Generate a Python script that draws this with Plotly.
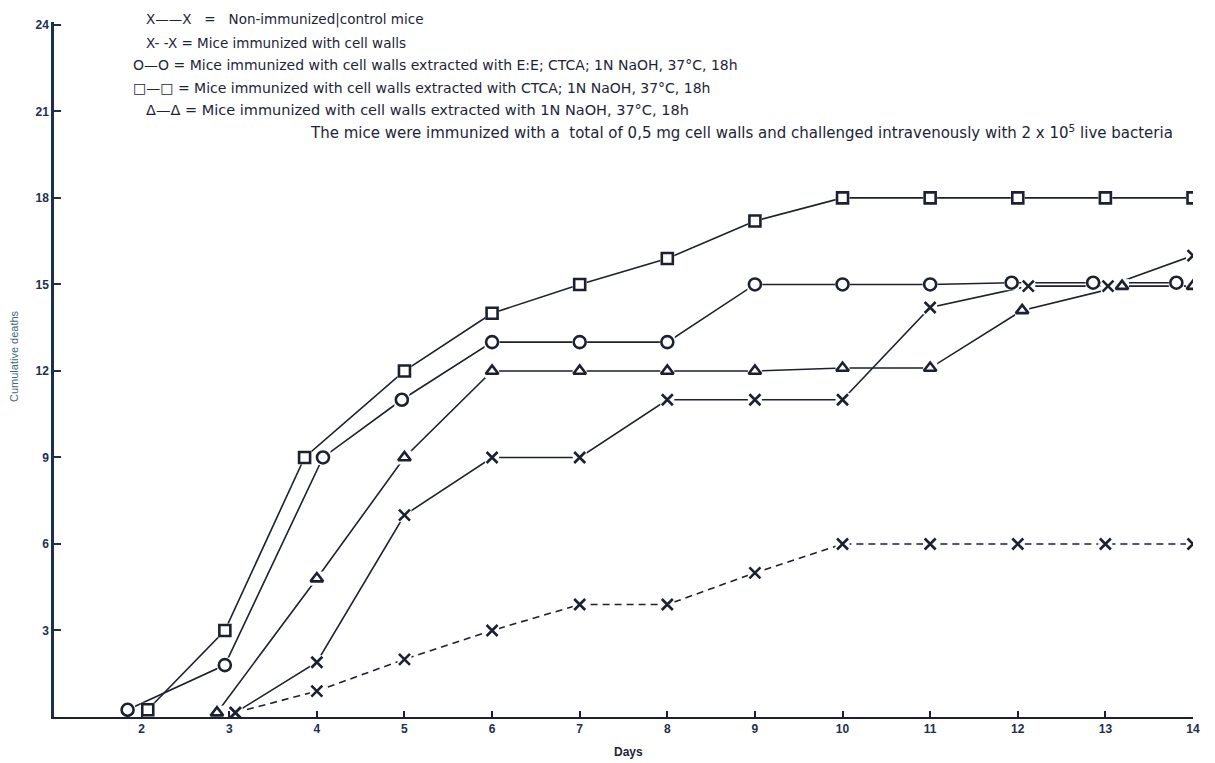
import plotly.graph_objects as go

# ---------------- data ----------------
# Non-immunized control mice (X, solid)
ctrl_days = [3.07, 4, 5, 6, 7, 8, 9, 10, 11, 12.12, 13.03, 14]
ctrl_deaths = [0.15, 1.9, 7, 9, 9, 11, 11, 11, 14.2, 14.94, 14.94, 16]

# Mice immunized with cell walls (X, dashed)
cw_days = [3.07, 4, 5, 6, 7, 8, 9, 10, 11, 12, 13, 14]
cw_deaths = [0.15, 0.9, 2, 3, 3.9, 3.9, 5, 6, 6, 6, 6, 6]

# Cell walls extracted with E:E; CTCA; 1N NaOH (O)
ee_days = [1.84, 2.95, 4.07, 4.97, 6, 7, 8, 9, 10, 11, 11.93, 12.86, 13.81]
ee_deaths = [0.25, 1.8, 9, 11, 13, 13, 13, 15, 15, 15, 15.06, 15.06, 15.06]

# Cell walls extracted with CTCA; 1N NaOH (square)
ctca_days = [2.07, 2.95, 3.86, 5, 6, 7, 8, 9, 10, 11, 12, 13, 14]
ctca_deaths = [0.25, 3.0, 9, 12, 14, 15, 15.9, 17.2, 18, 18, 18, 18, 18]

# Cell walls extracted with 1N NaOH (triangle)
naoh_days = [2.86, 4, 5, 6, 7, 8, 9, 10, 11, 12.05, 13.19, 14]
naoh_deaths = [0.15, 4.8, 9, 12, 12, 12, 12, 12.1, 12.1, 14.1, 14.94, 14.94]

x_ticks = [2, 3, 4, 5, 6, 7, 8, 9, 10, 11, 12, 13, 14]
y_ticks = [3, 6, 9, 12, 15, 18, 21, 24]

legend_rows = [
    "X\u2014\u2014X\u00a0\u00a0\u00a0=\u00a0\u00a0\u00a0Non-immunized|control mice",
    "X- -X = Mice immunized with cell walls",
    "O\u2014O = Mice immunized with cell walls extracted with E:E; CTCA; 1N NaOH, 37\u00b0C, 18h",
    "\u25a1\u2014\u25a1 = Mice immunized with cell walls extracted with CTCA; 1N NaOH, 37\u00b0C, 18h",
    "\u0394\u2014\u0394 = Mice immunized with cell walls extracted with 1N NaOH, 37\u00b0C, 18h",
]
note_text = ("The mice were immunized with a\u00a0\u00a0total of 0,5 mg cell walls and challenged "
             "intravenously with 2 x 10<sup>5</sup> live bacteria")

# ---------------- styling ----------------
W, H = 1215, 763
ML, MR, MT, MB = 54, 22, 22, 46
INK = "#1b2130"
NAVY = "#1d2f4f"
TXT = "#1c2538"

def px_x(p):
    return (p - ML) / (W - ML - MR)

def px_y(p):
    return 1 - (p - MT) / (H - MT - MB)

series = [
    dict(x=ctrl_days, y=ctrl_deaths, dash="solid", symbol="x-thin-open", size=11),
    dict(x=cw_days, y=cw_deaths, dash="7px,5px", symbol="x-thin-open", size=11),
    dict(x=ee_days, y=ee_deaths, dash="solid", symbol="circle-open", size=12),
    dict(x=ctca_days, y=ctca_deaths, dash="solid", symbol="square-open", size=11),
    dict(x=naoh_days, y=naoh_deaths, dash="solid", symbol="triangle-up-open", size=11),
]

fig = go.Figure()

# connecting lines first
for s in series:
    fig.add_trace(go.Scatter(
        x=s["x"], y=s["y"], mode="lines",
        line=dict(color=INK, width=1.6, dash=s["dash"]),
        hoverinfo="skip", showlegend=False))

# white pads that open small gaps in the lines around each symbol
for s in series:
    fig.add_trace(go.Scatter(
        x=s["x"], y=s["y"], mode="markers",
        marker=dict(symbol="square", size=s["size"] + 3, color="white", line=dict(width=0)),
        hoverinfo="skip", showlegend=False))

# the symbols
for s in series:
    fig.add_trace(go.Scatter(
        x=s["x"], y=s["y"], mode="markers",
        marker=dict(symbol=s["symbol"], size=s["size"], color=INK,
                    line=dict(color=INK, width=2.6)),
        showlegend=False))

annotations = []
row_y = [20, 43, 65, 88, 110]
row_x = [144, 144, 131, 131, 144]
row_size = [13.5, 13.5, 14, 14, 14.5]
for txt, yy, xx, fs in zip(legend_rows, row_y, row_x, row_size):
    annotations.append(dict(
        text=txt, x=px_x(xx), y=px_y(yy), xref="paper", yref="paper",
        xanchor="left", yanchor="middle", showarrow=False,
        font=dict(family="DejaVu Sans", size=fs, color=TXT)))
annotations.append(dict(
    text=note_text, x=px_x(1175), y=px_y(132), xref="paper", yref="paper",
    xanchor="right", yanchor="middle", showarrow=False,
    font=dict(family="DejaVu Sans", size=15, color=TXT)))
annotations.append(dict(
    text="Cumulative deaths", x=px_x(14), y=px_y(356), xref="paper", yref="paper",
    xanchor="center", yanchor="middle", textangle=-90, showarrow=False,
    font=dict(family="Liberation Sans", size=11, color="#3d6a74")))
annotations.append(dict(
    text="Days", x=px_x(628), y=px_y(752), xref="paper", yref="paper",
    xanchor="center", yanchor="middle", showarrow=False,
    font=dict(family="Liberation Sans", size=12, color=TXT, weight="bold")))

fig.update_layout(
    width=W, height=H,
    margin=dict(l=ML, r=MR, t=MT, b=MB),
    paper_bgcolor="white", plot_bgcolor="white",
    showlegend=False,
    annotations=annotations,
    xaxis=dict(
        range=[1, 14], tickmode="array", tickvals=x_ticks,
        ticktext=[str(v) for v in x_ticks],
        showgrid=False, zeroline=False,
        showline=True, linecolor=INK, linewidth=2,
        ticks="inside", ticklen=6, tickwidth=2, tickcolor=INK,
        tickfont=dict(family="Liberation Sans", size=12, color=NAVY, weight="bold"),
    ),
    yaxis=dict(
        range=[0, 24.1], tickmode="array", tickvals=y_ticks,
        ticktext=[str(v) for v in y_ticks],
        showgrid=False, zeroline=False,
        showline=True, linecolor=NAVY, linewidth=2.5,
        ticks="inside", ticklen=7, tickwidth=2, tickcolor=NAVY,
        tickfont=dict(family="Liberation Sans", size=12, color=NAVY, weight="bold"),
    ),
)

fig.write_html("out.html", config={"displayModeBar": False},
               post_script="document.body.style.margin='0';")
